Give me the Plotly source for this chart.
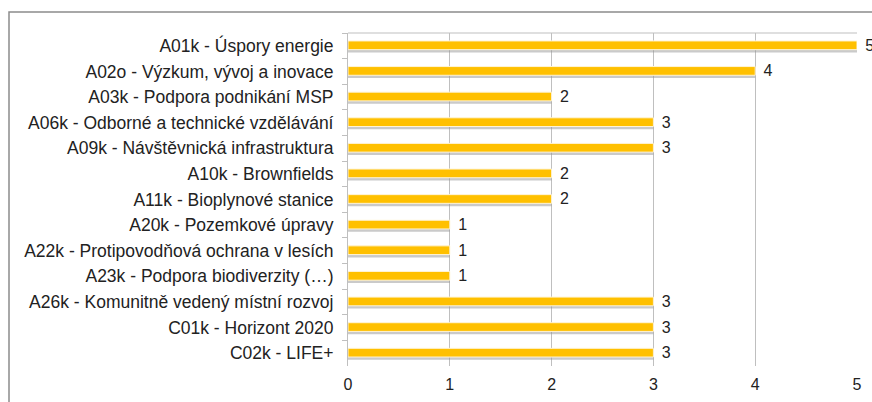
import plotly.graph_objects as go

categories = [
    "A01k - Úspory energie",
    "A02o - Výzkum, vývoj a inovace",
    "A03k - Podpora podnikání MSP",
    "A06k - Odborné a technické vzdělávání",
    "A09k - Návštěvnická infrastruktura",
    "A10k - Brownfields",
    "A11k - Bioplynové stanice",
    "A20k - Pozemkové úpravy",
    "A22k - Protipovodňová ochrana v lesích",
    "A23k - Podpora biodiverzity (…)",
    "A26k - Komunitně vedený místní rozvoj",
    "C01k - Horizont 2020",
    "C02k - LIFE+",
]
values = [5, 4, 2, 3, 3, 2, 2, 1, 1, 1, 3, 3, 3]
x_ticks = [0, 1, 2, 3, 4, 5]

W, H = 872, 402
L, R, T, B = 348, 15, 33, 36
pw, ph = W - L - R, H - T - B
FONT = "Liberation Sans, Arial"

fig = go.Figure()
# shadow
fig.add_trace(go.Bar(
    y=categories, x=values, orientation="h",
    width=0.44, offset=-0.18,
    marker=dict(color="rgba(150,150,150,0.5)", line=dict(width=0)),
    hoverinfo="skip", showlegend=False,
))
fig.add_trace(go.Bar(
    y=categories, x=values, orientation="h",
    width=0.34, offset=-0.19,
    marker=dict(color="#FFC000", line=dict(color="#FFF4D6", width=1)),
    text=["\u2004" + str(v) for v in values], textposition="outside",
    constraintext="none",
    textfont=dict(family=FONT, size=16, color="#222222"),
    cliponaxis=False, showlegend=False,
))

fig.update_layout(
    width=W, height=H,
    margin=dict(l=L, r=R, t=T, b=B, autoexpand=False),
    paper_bgcolor="white", plot_bgcolor="white",
    barmode="overlay",
    font=dict(family=FONT, size=17.5, color="#222222"),
    xaxis=dict(range=[0, 5], tickvals=x_ticks, showgrid=True,
               gridcolor="#BFBFBF", gridwidth=1, zeroline=False,
               showline=False, ticks="", tickfont=dict(size=16),
               ticklabelstandoff=7, automargin=False),
    yaxis=dict(autorange="reversed", showline=True, linecolor="#BFBFBF",
               ticks="outside", ticklen=5, tickcolor="#BFBFBF",
               tickson="boundaries", showgrid=False,
               ticklabelstandoff=10, automargin=False),
    shapes=[
        dict(type="line", xref="paper", yref="paper", x0=0, x1=1, y0=1, y1=1,
             line=dict(color="#BFBFBF", width=1)),
        dict(type="rect", xref="paper", yref="paper",
             x0=(9 - L) / pw, x1=(W + 20 - L) / pw,
             y0=-(B + 20) / ph, y1=1 + (T - 12) / ph,
             line=dict(color="#8C8C8C", width=1.5), fillcolor="rgba(0,0,0,0)",
             layer="above"),
    ],
)

fig.write_html(
    "out.html",
    config={"displayModeBar": False},
    post_script="document.documentElement.style.overflow='hidden';"
                "document.body.style.margin='0';"
                "document.body.style.overflow='hidden';",
)
